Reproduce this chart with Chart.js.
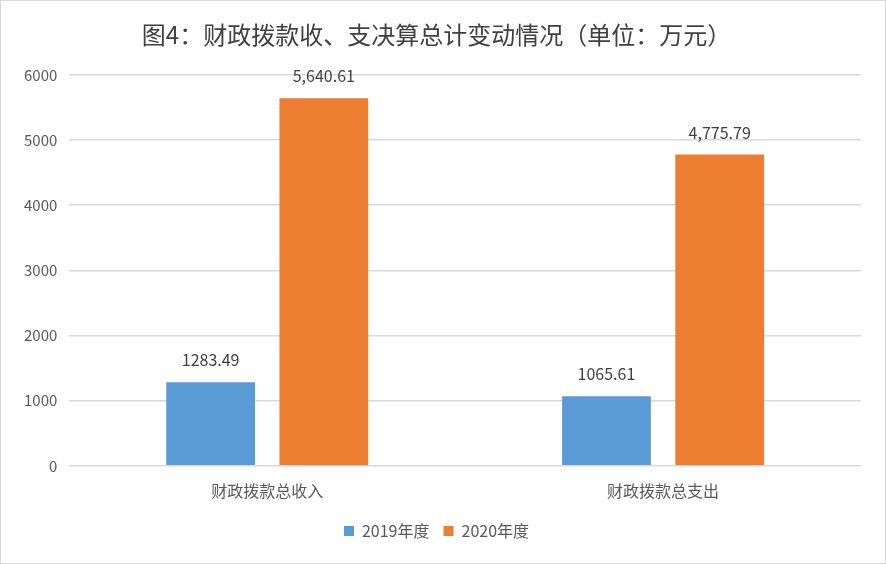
<!DOCTYPE html>
<html>
<head>
<meta charset="utf-8">
<script src="https://cdn.jsdelivr.net/npm/chart.js@4/dist/chart.umd.min.js"></script>
<style>
  html, body { margin: 0; padding: 0; background: #fff; }
  #wrap { width: 884px; height: 562px; border: 1px solid #d9d9d9; }
</style>
</head>
<body>
<div id="wrap"><canvas id="barChart" width="884" height="562"></canvas></div>
<script>
const categories = ['财政拨款总收入', '财政拨款总支出'];
const values2019 = [1283.49, 1065.61];
const values2020 = [5640.61, 4775.79];
const labels2019 = ['1283.49', '1065.61'];
const labels2020 = ['5,640.61', '4,775.79'];
const seriesNames = ['2019年度', '2020年度'];

const FONT = '"Liberation Sans Narrow", "Noto Sans CJK SC", sans-serif';

// draws the value above each bar
const barLabels = {
    id: 'barLabels',
    afterDatasetsDraw(chart) {
        const ctx = chart.ctx;
        ctx.save();
        ctx.font = '16px ' + FONT;
        ctx.fillStyle = '#404040';
        ctx.textAlign = 'center';
        ctx.textBaseline = 'bottom';
        chart.data.datasets.forEach((ds, i) => {
            chart.getDatasetMeta(i).data.forEach((bar, j) => {
                ctx.fillText(ds.valueLabels[j], bar.x, bar.y - 14);
            });
        });
        ctx.restore();
    }
};

new Chart(document.getElementById('barChart').getContext('2d'), {
    type: 'bar',
    data: {
        labels: categories,
        datasets: [
            { label: seriesNames[0], data: values2019, valueLabels: labels2019, backgroundColor: '#5B9BD5' },
            { label: seriesNames[1], data: values2020, valueLabels: labels2020, backgroundColor: '#ED7D31' }
        ]
    },
    options: {
        responsive: false,
        animation: false,
        categoryPercentage: 0.572,
        barPercentage: 0.784,
        layout: { padding: { left: 11, right: 24, top: 11, bottom: 14 } },
        plugins: {
            title: {
                display: true,
                text: '图4：财政拨款收、支决算总计变动情况（单位：万元）',
                color: '#404040',
                font: { family: FONT, size: 24, weight: 'normal' },
                padding: { top: 8, bottom: 26 }
            },
            legend: {
                position: 'bottom',
                labels: {
                    color: '#595959',
                    font: { family: FONT, size: 16 },
                    boxWidth: 10,
                    boxHeight: 10,
                    padding: 14
                }
            },
            tooltip: { enabled: false }
        },
        scales: {
            x: {
                grid: { display: false },
                border: { display: false },
                ticks: { color: '#595959', font: { family: FONT, size: 16 }, padding: 8 }
            },
            y: {
                min: 0,
                max: 6000,
                ticks: {
                    stepSize: 1000,
                    color: '#595959',
                    font: { family: FONT, size: 15 },
                    padding: 12,
                    callback: v => String(v)
                },
                grid: { color: '#d9d9d9', lineWidth: 1.5, drawTicks: false },
                border: { display: false }
            }
        }
    },
    plugins: [barLabels]
});
</script>
</body>
</html>
